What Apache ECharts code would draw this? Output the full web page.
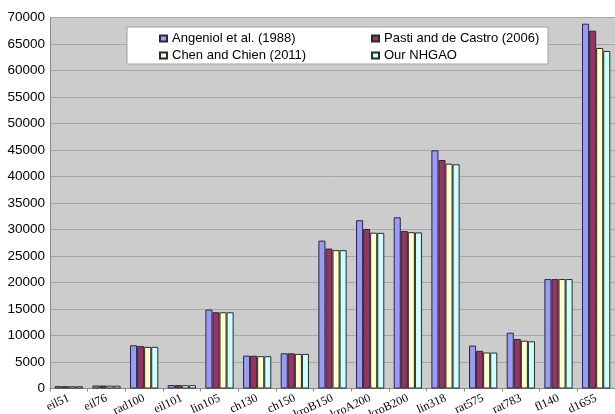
<!DOCTYPE html>
<html><head><meta charset="utf-8">
<script src="https://cdn.jsdelivr.net/npm/echarts@6/dist/echarts.min.js"></script>
<style>html,body{margin:0;padding:0;background:#fff}#c{width:615px;height:414px}</style>
</head><body><div id="c"></div>
<script>
const categories = ["eil51","eil76","rad100","eil101","lin105","ch130","ch150","kroB150","kroA200","kroB200","lin318","rat575","rat783","fl140","d1655"];
const seriesNames = ["Angeniol et al. (1988)","Pasti and de Castro (2006)","Chen and Chien (2011)","Our NHGAO"];
const angeniol = [440, 570, 8160, 650, 14900, 6200, 6650, 27900, 31750, 32300, 44940, 8100, 10530, 20650, 68830];
const pasti    = [435, 560, 7990, 645, 14390, 6180, 6640, 26400, 30100, 29700, 43110, 7100, 9340, 20650, 67510];
const chen     = [427, 540, 7860, 630, 14380, 6100, 6530, 26100, 29400, 29500, 42420, 6800, 9020, 20650, 64250];
const ours     = [427, 538, 7860, 630, 14380, 6100, 6530, 26100, 29370, 29450, 42300, 6780, 8900, 20650, 63680];
const colors = ["#9999ff","#993366","#ffffcc","#ccffff"];
const yTicks = {min:0, max:70000, interval:5000};

const values = [angeniol, pasti, chen, ours];
const chart = echarts.init(document.getElementById('c'), null, {renderer:'canvas'});
chart.setOption({
  animation:false,
  backgroundColor:'#ffffff',
  grid:{left:50, right:0, top:17.5, bottom:25.5, show:true, backgroundColor:'#cccccc', borderWidth:0, containLabel:false, outerBoundsMode:'none'},
  graphic:[{type:'rect', z:1, shape:{x:127, y:27, width:421, height:37}, style:{fill:'#ffffff', stroke:'#a0a0a0', lineWidth:1}}],
  legend:[
    {z:10, orient:'vertical', left:154, top:27, itemWidth:7, itemHeight:6, itemGap:4, icon:'rect',
     textStyle:{fontFamily:'Liberation Sans, Arial', fontSize:13, color:'#000'}, data:[seriesNames[0], seriesNames[2]]},
    {z:10, orient:'vertical', left:366, top:27, itemWidth:7, itemHeight:6, itemGap:4, icon:'rect',
     textStyle:{fontFamily:'Liberation Sans, Arial', fontSize:13, color:'#000'}, data:[seriesNames[1], seriesNames[3]]}
  ],
  xAxis:{type:'category', data:categories,
    axisLine:{lineStyle:{color:'#888888'}},
    axisTick:{show:true, length:3, lineStyle:{color:'#888888'}},
    axisLabel:{rotate:25, interval:0, margin:9, fontFamily:'Liberation Serif, Times New Roman', fontSize:12, color:'#000'}},
  yAxis:{type:'value', min:yTicks.min, max:yTicks.max, interval:yTicks.interval,
    axisLine:{show:true, lineStyle:{color:'#888888'}},
    axisTick:{show:false},
    axisLabel:{margin:5, fontFamily:'Liberation Sans, Arial', fontSize:13.5, color:'#000', formatter:v=>String(v)},
    splitLine:{lineStyle:{color:'#a6a6a6', width:1}}},
  series: seriesNames.map((n,i)=>({
    name:n, type:'bar', data:values[i], barGap:'0%', barCategoryGap:'25%',
    itemStyle:{color:colors[i], borderColor:'#2a2a2a', borderWidth:1}
  }))
});
</script></body></html>
